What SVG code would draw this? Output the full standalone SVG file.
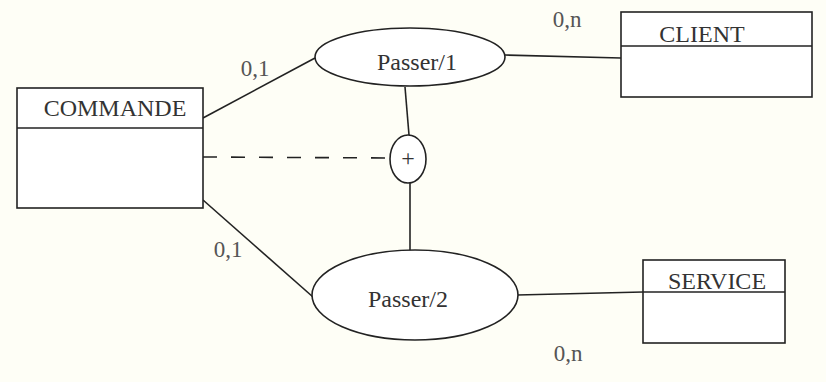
<svg xmlns="http://www.w3.org/2000/svg" width="826" height="382" viewBox="0 0 826 382">
<style>
.box{fill:#fff;stroke:#222;stroke-width:1.6}
.ln{stroke:#222;stroke-width:1.6;fill:none}
.t{font-family:"Liberation Serif",serif;font-size:24px;fill:#333;text-anchor:middle}
.c{font-family:"Liberation Serif",serif;font-size:23px;fill:#555;text-anchor:middle}
</style>
<rect width="826" height="382" fill="#fefef6"/>
<g id="connectors">
<line class="ln" x1="203" y1="118" x2="315" y2="58"/>
<line class="ln" x1="203" y1="200" x2="313" y2="297"/>
<line class="ln" x1="203" y1="157" x2="390" y2="158" stroke-dasharray="14,14"/>
<line class="ln" x1="405" y1="87" x2="409" y2="135"/>
<line class="ln" x1="410" y1="183" x2="410" y2="251"/>
<line class="ln" x1="505" y1="55" x2="621" y2="58"/>
<line class="ln" x1="517" y1="295" x2="643" y2="292"/>
<text class="c" x="255" y="76">0,1</text>
<text class="c" x="228" y="257">0,1</text>
<text class="c" x="567" y="27">0,n</text>
<text class="c" x="568" y="361">0,n</text>
</g>
<g id="commande">
<rect class="box" x="17" y="88" width="186" height="120"/>
<line class="ln" x1="17" y1="128" x2="203" y2="128"/>
<text class="t" x="115" y="116">COMMANDE</text>
</g>
<g id="client">
<rect class="box" x="621" y="12" width="191" height="85"/>
<line class="ln" x1="621" y1="46" x2="812" y2="46"/>
<text class="t" x="702" y="42">CLIENT</text>
</g>
<g id="service">
<rect class="box" x="643" y="260" width="142" height="83"/>
<line class="ln" x1="643" y1="292" x2="785" y2="292"/>
<text class="t" x="717" y="289">SERVICE</text>
</g>
<g id="passer1">
<ellipse class="box" cx="410" cy="57" rx="95" ry="29"/>
<text class="t" x="417" y="70" font-size="26">Passer/1</text>
</g>
<g id="passer2">
<ellipse class="box" cx="415" cy="295" rx="103" ry="45"/>
<text class="t" x="408" y="307" font-size="26">Passer/2</text>
</g>
<g id="excl">
<ellipse class="box" cx="408" cy="159" rx="18" ry="24"/>
<text class="t" x="408" y="166" font-size="18">+</text>
</g>
</svg>
